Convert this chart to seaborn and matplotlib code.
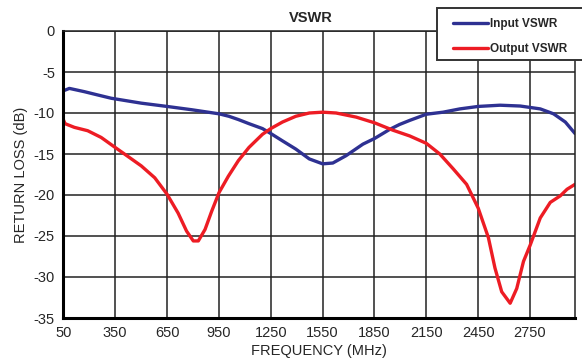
import matplotlib
matplotlib.use("Agg")
import matplotlib.pyplot as plt
import seaborn as sns
import pandas as pd
from matplotlib.lines import Line2D
from matplotlib.patches import Rectangle

# ---- data ----
input_freq = [50, 85, 172, 249, 327, 501, 650, 792, 951, 1008, 1063, 1124, 1202,
              1250, 1318, 1395, 1473, 1550, 1609, 1686, 1783, 1851, 1938, 1995,
              2054, 2150, 2247, 2344, 2450, 2576, 2693, 2809, 2886, 2954, 3010]
input_db = [-7.3, -7.0, -7.4, -7.8, -8.2, -8.8, -9.2, -9.6, -10.1, -10.4, -10.8,
            -11.3, -11.9, -12.5, -13.4, -14.4, -15.6, -16.2, -16.1, -15.2, -13.8,
            -13.1, -12.0, -11.4, -10.9, -10.15, -9.9, -9.5, -9.2, -9.05, -9.15,
            -9.5, -10.1, -11.1, -12.5]

output_freq = [50, 60, 114, 191, 269, 350, 424, 501, 579, 650, 714, 763, 802, 831,
               870, 908, 951, 1005, 1063, 1124, 1202, 1250, 1318, 1395, 1473, 1550,
               1628, 1744, 1851, 1957, 2054, 2150, 2228, 2305, 2383, 2450, 2509,
               2547, 2586, 2635, 2673, 2712, 2751, 2809, 2867, 2925, 2964, 3010]
output_db = [-10.8, -11.3, -11.75, -12.16, -12.98, -14.2, -15.3, -16.45, -17.9,
             -19.9, -22.2, -24.4, -25.6, -25.6, -24.2, -22.0, -19.7, -17.7, -15.8,
             -14.2, -12.6, -11.9, -11.1, -10.4, -10.0, -9.9, -10.0, -10.5, -11.2,
             -12.1, -12.8, -13.7, -15.0, -16.8, -18.7, -21.6, -25.2, -28.9, -31.8,
             -33.2, -31.4, -28.1, -26.1, -22.8, -20.9, -20.1, -19.3, -18.7]

series_names = ["Input VSWR", "Output VSWR"]
x_ticks = [50, 350, 650, 950, 1250, 1550, 1850, 2150, 2450, 2750]
y_ticks = [0, -5, -10, -15, -20, -25, -30, -35]

df = pd.concat([
    pd.DataFrame({"freq": input_freq, "db": input_db, "series": series_names[0]}),
    pd.DataFrame({"freq": output_freq, "db": output_db, "series": series_names[1]}),
])

sns.set_theme(style="white")
plt.rcParams["font.family"] = ["Liberation Sans", "DejaVu Sans"]

colors = {"Input VSWR": "#2e3192", "Output VSWR": "#ed1c24"}

fig = plt.figure(figsize=(5.82, 3.64), dpi=100)
ax = fig.add_axes([63.3 / 582, 1 - 318 / 364, (575 - 63.3) / 582, (318 - 31) / 364])

sns.lineplot(data=df, x="freq", y="db", hue="series", palette=colors, sort=False,
             linewidth=2.4, ax=ax, legend=False, estimator=None)
for ln in ax.get_lines():
    ln.set_solid_joinstyle("round")
    ln.set_solid_capstyle("round")

ax.set_xlim(50, 3010)
ax.set_ylim(-35, 0)
ax.set_xticks(x_ticks)
ax.set_yticks(y_ticks)
ax.set_xticklabels([str(v) for v in x_ticks], fontsize=10.5)
ax.set_yticklabels([str(v) for v in y_ticks], fontsize=10.5)
ax.tick_params(length=0, pad=6)
ax.grid(True, color="#222222", linewidth=1.1)
ax.set_axisbelow(True)

for s in ["top", "right"]:
    ax.spines[s].set_color("#222222")
    ax.spines[s].set_linewidth(1.1)
for s in ["left", "bottom"]:
    ax.spines[s].set_color("black")
    ax.spines[s].set_linewidth(2.2)

ax.set_xlabel("FREQUENCY (MHz)", fontsize=10.5, labelpad=3)
ax.set_ylabel("RETURN LOSS (dB)", fontsize=10.5, labelpad=4)

fig.text(311 / 582, 1 - 18 / 364, "VSWR", ha="center", va="center",
         fontsize=10.5, fontweight="bold")

# legend box (extends past the right edge like the reference)
box = Rectangle((437.3 / 582, 1 - 60 / 364), 160 / 582, (60 - 8.3) / 364,
                transform=fig.transFigure, facecolor="white", edgecolor="#333333",
                linewidth=1.4, zorder=4)
fig.patches.append(box)

handles = [Line2D([0], [0], color=colors[n], linewidth=2.4) for n in series_names]
leg = fig.legend(handles, series_names, loc="upper left",
                 bbox_to_anchor=(452.7 / 582, 1 - 18 / 364), frameon=False,
                 prop={"size": 8.5, "weight": "bold"}, handlelength=2.95,
                 handletextpad=0.17, labelspacing=1.1, borderpad=0,
                 borderaxespad=0)
leg.set_zorder(6)

fig.savefig("out.png", dpi=100)
